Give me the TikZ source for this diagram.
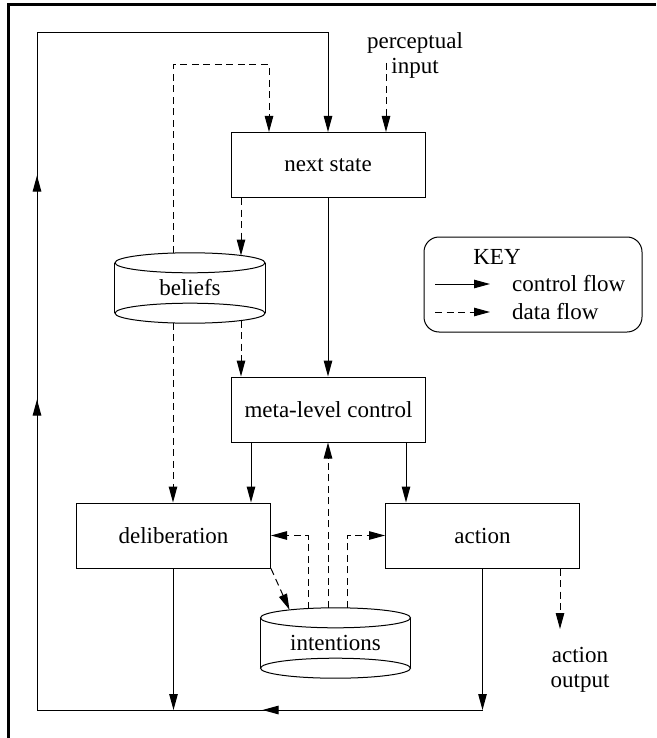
\documentclass[tikz,border=0pt]{standalone}
\usepackage{fontspec}
\setmainfont{Liberation Serif}
\usetikzlibrary{arrows.meta,decorations.markings,calc}
\newcommand\mycyl[1]{%
  \draw[line width=1pt] (#1.north west) -- (#1.south west) (#1.north east) -- (#1.south east);
  \draw[line width=1pt] (#1.north) ellipse [x radius=75, y radius=10];
  \draw[line width=1pt] (#1.south) ellipse [x radius=75, y radius=10];}
\begin{document}
\begin{tikzpicture}[x=1pt,y=-1pt,
  >={Triangle[length=16pt,width=8.5pt]},
  every node/.style={font=\fontsize{23}{25}\selectfont, inner sep=0pt},
  box/.style={draw, line width=1pt, minimum width=194pt, minimum height=65pt},
  cyl/.style={minimum width=150pt, minimum height=50pt},
  ctrl/.style={draw, line width=1pt, ->},
  data/.style={draw, line width=1pt, dash pattern=on 7pt off 4.5pt, ->}]
\useasboundingbox (0,0) rectangle (656,738);
% frame
\coordinate (fa) at (8,738);
\coordinate (fb) at (8,5);
\coordinate (fc) at (656,5);
\draw[line width=3pt] (fa) -- (fb) -- (fc);

% boxes
\node[box] (ns) at (328,165) {next state};
\node[box] (meta) at (328.5,409.5) {meta-level control};
\node[box] (delib) at (173.5,535.5) {deliberation};
\node[box] (act) at (482.5,535.5) {action};

% cylinders
\node[cyl] (bel) at (190,288) {beliefs};
\mycyl{bel}
\node[cyl] (int) at (335.5,643) {intentions};
\mycyl{int}

% free texts
\node[align=center] (perc) at (415,55) {perceptual\\input};
\node[align=center] (aout) at (580,670) {action\\output};

% key
\node[draw, line width=1pt, rounded corners=15pt, minimum width=218pt, minimum height=95pt] (key) at (533,284.5) {};
\node (keyt) at (497,257) {KEY};
\node[anchor=west] (cf) at (512,284) {control flow};
\node[anchor=west] (df) at (512,312) {data flow};
\coordinate (k1a) at (435,284);
\coordinate (k1b) at (490,284);
\coordinate (k2a) at (435,312);
\coordinate (k2b) at (490,312);
\draw[ctrl] (k1a) -- (k1b);
\draw[data] (k2a) -- (k2b);

% outer control loop
\coordinate (lb) at (37,710);
\coordinate (lt) at (37,33);
\draw[ctrl] (delib.south) -- (delib.south |- lb);
\draw[ctrl] (act.south) -- (act.south |- lb);
\draw[ctrl, postaction={decorate}, decoration={markings,
    mark=at position 220pt with {\arrow{>}},
    mark=at position 756pt with {\arrow{>}},
    mark=at position 980pt with {\arrow{>}}}]
  (act.south |- lb) -- (lb) -- (lt) -| (ns.north);

% control flow
\draw[ctrl] (ns.south) -- (ns.south |- meta.north);
\draw[ctrl] ([xshift=-77.5pt]meta.south) -- ([xshift=-77.5pt]meta.south |- delib.north);
\draw[ctrl] ([xshift=77.5pt]meta.south) -- ([xshift=77.5pt]meta.south |- act.north);

% data flow around beliefs
\coordinate (belTL) at ([xshift=-17pt,yshift=9.7pt]bel.north);
\coordinate (belTR) at ([xshift=51pt,yshift=7.3pt]bel.north);
\coordinate (belBL) at ([xshift=-17pt,yshift=-9.7pt]bel.south);
\coordinate (belBR) at ([xshift=51pt,yshift=-7.3pt]bel.south);
\coordinate (dtop) at (173,65);
\draw[data] (belTL) -- (dtop) -| ([xshift=-59pt]ns.north);
\draw[data] (ns.south -| belTR) -- (belTR);
\draw[data] (belBR) -- (belBR |- meta.north);
\draw[data] (belBL) -- (belBL |- delib.north);

% perceptual input
\coordinate (pin) at (386,63);
\draw[data] (pin) -- (pin |- ns.north);

% data flow around intentions
\coordinate (intA) at ([xshift=-27.5pt,yshift=9.3pt]int.north);
\coordinate (intB) at ([xshift=-7.5pt,yshift=9.9pt]int.north);
\coordinate (intC) at ([xshift=11.5pt,yshift=9.9pt]int.north);
\coordinate (intD) at ([xshift=-46pt,yshift=8pt]int.north);
\draw[data] (intA) |- (delib.east);
\draw[data] (intB) -- (intB |- meta.south);
\draw[data] (intC) |- (act.west);
\draw[data] (delib.south east) -- (intD);

% action output
\coordinate (aoutt) at (560,629);
\draw[data] (aoutt |- act.south) -- (aoutt);
\end{tikzpicture}
\end{document}
